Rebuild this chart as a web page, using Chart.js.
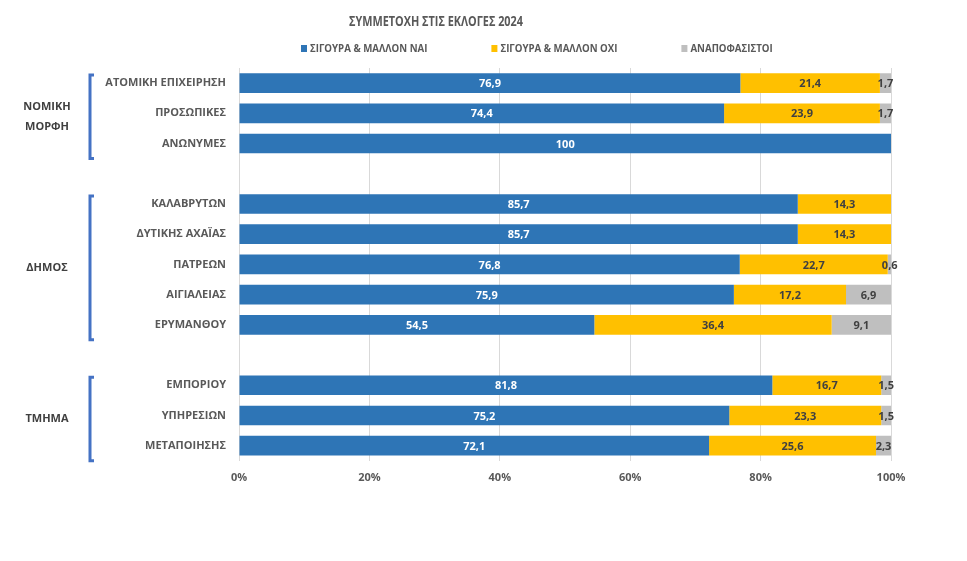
<!DOCTYPE html>
<html>
<head>
<meta charset="utf-8">
<script src="https://cdn.jsdelivr.net/npm/chart.js@4/dist/chart.umd.min.js"></script>
<style>
  html, body { margin: 0; padding: 0; background: #fff; }
  #wrap { width: 967px; height: 561px; }
</style>
</head>
<body>
<div id="wrap"><canvas id="chart" width="967" height="561"></canvas></div>
<script>
// chart data
const chartTitle = 'ΣΥΜΜΕΤΟΧΗ ΣΤΙΣ ΕΚΛΟΓΕΣ 2024';
const categories = [
    'ΑΤΟΜΙΚΗ ΕΠΙΧΕΙΡΗΣΗ', 'ΠΡΟΣΩΠΙΚΕΣ', 'ΑΝΩΝΥΜΕΣ', '',
    'ΚΑΛΑΒΡΥΤΩΝ', 'ΔΥΤΙΚΗΣ ΑΧΑΪΑΣ', 'ΠΑΤΡΕΩΝ', 'ΑΙΓΙΑΛΕΙΑΣ', 'ΕΡΥΜΑΝΘΟΥ', '',
    'ΕΜΠΟΡΙΟΥ', 'ΥΠΗΡΕΣΙΩΝ', 'ΜΕΤΑΠΟΙΗΣΗΣ'
];
const seriesNames = ['ΣΙΓΟΥΡΑ & ΜΑΛΛΟΝ ΝΑΙ', 'ΣΙΓΟΥΡΑ & ΜΑΛΛΟΝ ΟΧΙ', 'ΑΝΑΠΟΦΑΣΙΣΤΟΙ'];
const yesValues       = [76.9, 74.4, 100, null, 85.7, 85.7, 76.8, 75.9, 54.5, null, 81.8, 75.2, 72.1];
const noValues        = [21.4, 23.9, null, null, 14.3, 14.3, 22.7, 17.2, 36.4, null, 16.7, 23.3, 25.6];
const undecidedValues = [1.7, 1.7, null, null, null, null, 0.6, 6.9, 9.1, null, 1.5, 1.5, 2.3];
const groupNames = [['ΝΟΜΙΚΗ', 'ΜΟΡΦΗ'], ['ΔΗΜΟΣ'], ['ΤΜΗΜΑ']];
const groupRanges = [[0, 2], [4, 8], [10, 12]];
const xTickStep = 20;

const colors = ['#2E75B6', '#FFC000', '#BFBFBF'];
const labelColors = ['#FFFFFF', '#404040', '#404040'];
const textGrey = '#595959';
const fontFamily = '"Open Sans", "Liberation Sans", sans-serif';

// title + legend drawn at top
const headerPlugin = {
    id: 'header',
    afterDraw(chart) {
        const ctx = chart.ctx;
        ctx.save();
        ctx.fillStyle = textGrey;
        ctx.font = 'bold 15px ' + fontFamily;
        // squeeze the title to the narrow width of the original font
        const tw = ctx.measureText(chartTitle).width;
        ctx.textAlign = 'left';
        ctx.textBaseline = 'middle';
        ctx.translate(349, 22);
        ctx.scale(174 / tw, 1);
        ctx.fillText(chartTitle, 0, 0);
        ctx.setTransform(1, 0, 0, 1, 0, 0);

        ctx.font = 'bold 11px ' + fontFamily;
        const squeeze = 0.88;
        let x = 301;
        chart.data.datasets.forEach((ds) => {
            ctx.fillStyle = ds.backgroundColor;
            ctx.fillRect(x, 45, 6, 7);
            ctx.fillStyle = textGrey;
            const w = ctx.measureText(ds.label).width;
            ctx.save();
            ctx.translate(x + 9, 49);
            ctx.scale(squeeze, 1);
            ctx.fillText(ds.label, 0, 0);
            ctx.restore();
            x += 9 + w * squeeze + 64;
        });
        ctx.restore();
    }
};

// value labels in the middle of each segment
const valueLabels = {
    id: 'valueLabels',
    afterDatasetsDraw(chart) {
        const ctx = chart.ctx;
        ctx.save();
        ctx.font = 'bold 11px ' + fontFamily;
        ctx.textAlign = 'center';
        ctx.textBaseline = 'middle';
        chart.data.datasets.forEach((ds, i) => {
            const meta = chart.getDatasetMeta(i);
            meta.data.forEach((bar, j) => {
                const v = ds.data[j];
                if (v === null || v === undefined) return;
                const p = bar.getProps(['x', 'y', 'base'], true);
                ctx.fillStyle = labelColors[i];
                ctx.fillText(String(v).replace('.', ','), (p.x + p.base) / 2, p.y + 1);
            });
        });
        ctx.restore();
    }
};

// group names with brackets on the left
const groupPlugin = {
    id: 'groups',
    afterDraw(chart) {
        const ctx = chart.ctx;
        const y = chart.scales.y;
        ctx.save();
        groupRanges.forEach((r, i) => {
            const top = y.getPixelForValue(r[0]) - 8;
            const bottom = y.getPixelForValue(r[1]) + 15;
            ctx.strokeStyle = '#4472C4';
            ctx.lineWidth = 3;
            ctx.beginPath();
            ctx.moveTo(94, top);
            ctx.lineTo(90, top);
            ctx.lineTo(90, bottom);
            ctx.lineTo(94, bottom);
            ctx.stroke();

            const mid = (top + bottom) / 2;
            const lines = groupNames[i];
            ctx.fillStyle = '#404040';
            ctx.font = 'bold 11px ' + fontFamily;
            ctx.textAlign = 'center';
            ctx.textBaseline = 'middle';
            lines.forEach((t, k) => {
                ctx.fillText(t, 47, mid + (k - (lines.length - 1) / 2) * 20);
            });
        });
        ctx.restore();
    }
};

new Chart(document.getElementById('chart'), {
    type: 'bar',
    data: {
        labels: categories,
        datasets: [
            { label: seriesNames[0], data: yesValues, backgroundColor: colors[0] },
            { label: seriesNames[1], data: noValues, backgroundColor: colors[1] },
            { label: seriesNames[2], data: undecidedValues, backgroundColor: colors[2] }
        ]
    },
    options: {
        indexAxis: 'y',
        responsive: false,
        animation: false,
        devicePixelRatio: 1,
        categoryPercentage: 1,
        barPercentage: 0.65,
        layout: { padding: { top: 68, right: 76, bottom: 67, left: 0 } },
        plugins: {
            legend: { display: false },
            title: { display: false },
            tooltip: { enabled: false }
        },
        scales: {
            x: {
                stacked: true,
                min: 0,
                max: 100,
                ticks: {
                    stepSize: xTickStep,
                    padding: 10,
                    color: textGrey,
                    font: { family: fontFamily, size: 11, weight: 'bold' },
                    callback: (v) => v + '%'
                },
                grid: { color: '#D9D9D9', drawTicks: false },
                border: { display: false }
            },
            y: {
                stacked: true,
                afterFit: (scale) => { scale.width = 239; },
                ticks: {
                    padding: 13,
                    color: textGrey,
                    font: { family: fontFamily, size: 11, weight: 'bold' }
                },
                grid: { display: false, drawTicks: false },
                border: { display: false }
            }
        }
    },
    plugins: [headerPlugin, valueLabels, groupPlugin]
});
</script>
</body>
</html>
